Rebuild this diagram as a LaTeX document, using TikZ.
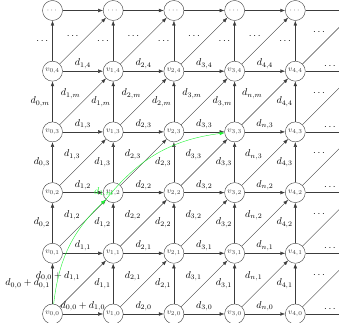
\documentclass[tikz,border=0pt]{standalone}
\usepackage{amsmath}
\usetikzlibrary{positioning,arrows.meta,calc}
\definecolor{gdGray}{RGB}{60,60,60}
\definecolor{gdGreen}{RGB}{30,245,50}
\tikzset{
    cell/.style={circle, draw=gdGray, fill=white, text=gdGray, inner sep=1pt,
                 minimum size=20pt, font=\footnotesize},
    link/.style={->, >=Latex, gdGray},
    cost/.style={inner sep=2.5pt, text=black},
    track/.style={->, >=Latex, gdGreen}
}

\begin{document}
\begin{tikzpicture}[x=60.7pt, y=60.7pt]
  \useasboundingbox (-0.865,-0.132) rectangle (4.720,5.173);

  % Grid of states
  \foreach \i in {0,...,4}{
    \foreach \j in {0,...,4}
      \node[cell] (v\i\j) at (\i,\j) {$v_{\i,\j}$};
    \node[cell] (v\i5) at (\i,5) {$\cdots$};
  }
  % Next column, cut off
  \foreach \j in {0,...,5}
    \coordinate (v5\j) at (5,\j);

  % Horizontal edges
  \foreach \i/\lab [evaluate=\i as \p using int(\i-1)] in
      {1/d_{0,0}+d_{1,0}, 2/d_{2,0}, 3/d_{3,0}, 4/d_{n,0}, 5/\cdots}
    \draw[link] (v\p0) -- node[cost, above] (h\i0) {$\lab$} (v\i0);
  \foreach \i/\lab [evaluate=\i as \p using int(\i-1)] in
      {1/d_{1,1}, 2/d_{2,1}, 3/d_{3,1}, 4/d_{n,1}, 5/\cdots}
    \draw[link] (v\p1) -- node[cost, above] (h\i1) {$\lab$} (v\i1);
  \foreach \i/\lab [evaluate=\i as \p using int(\i-1)] in
      {1/d_{1,2}, 2/d_{2,2}, 3/d_{3,2}, 4/d_{n,2}, 5/\cdots}
    \draw[link] (v\p2) -- node[cost, above] (h\i2) {$\lab$} (v\i2);
  \foreach \i/\lab [evaluate=\i as \p using int(\i-1)] in
      {1/d_{1,3}, 2/d_{2,3}, 3/d_{3,3}, 4/d_{n,3}, 5/\cdots}
    \draw[link] (v\p3) -- node[cost, above] (h\i3) {$\lab$} (v\i3);
  \foreach \i/\lab [evaluate=\i as \p using int(\i-1)] in
      {1/d_{1,4}, 2/d_{2,4}, 3/d_{3,4}, 4/d_{4,4}, 5/\cdots}
    \draw[link] (v\p4) -- node[cost, above] (h\i4) {$\lab$} (v\i4);
  \foreach \i [evaluate=\i as \p using int(\i-1)] in {1,...,5}
    \draw[link] (v\p5) -- (v\i5);

  % Vertical edges
  \foreach \j/\lab [evaluate=\j as \q using int(\j-1)] in
      {1/d_{0,0}+d_{0,1}, 2/d_{0,2}, 3/d_{0,3}, 4/d_{0,m}, 5/\cdots}
    \draw[link] (v0\q) -- node[cost, left] (u0\j) {$\lab$} (v0\j);
  \foreach \j/\lab [evaluate=\j as \q using int(\j-1)] in
      {1/d_{1,1}, 2/d_{1,2}, 3/d_{1,3}, 4/d_{1,m}, 5/\cdots}
    \draw[link] (v1\q) -- node[cost, left] (u1\j) {$\lab$} (v1\j);
  \foreach \j/\lab [evaluate=\j as \q using int(\j-1)] in
      {1/d_{2,1}, 2/d_{2,2}, 3/d_{2,3}, 4/d_{2,m}, 5/\cdots}
    \draw[link] (v2\q) -- node[cost, left] (u2\j) {$\lab$} (v2\j);
  \foreach \j/\lab [evaluate=\j as \q using int(\j-1)] in
      {1/d_{3,1}, 2/d_{3,2}, 3/d_{3,3}, 4/d_{3,m}, 5/\cdots}
    \draw[link] (v3\q) -- node[cost, left] (u3\j) {$\lab$} (v3\j);
  \foreach \j/\lab [evaluate=\j as \q using int(\j-1)] in
      {1/d_{4,1}, 2/d_{4,2}, 3/d_{4,3}, 4/d_{4,4}, 5/\cdots}
    \draw[link] (v4\q) -- node[cost, left] (u4\j) {$\lab$} (v4\j);

  % Diagonal edges
  \foreach \i/\lab [evaluate=\i as \p using int(\i-1)] in
      {1/d_{0,0}+d_{1,1}, 2/d_{2,1}, 3/d_{3,1}, 4/d_{n,1}, 5/\cdots}
    \draw[link] (v\p0) -- node[cost, above left] (g\i1) {$\lab$} (v\i1);
  \foreach \i/\lab [evaluate=\i as \p using int(\i-1)] in
      {1/d_{1,2}, 2/d_{2,2}, 3/d_{3,2}, 4/d_{n,2}, 5/\cdots}
    \draw[link] (v\p1) -- node[cost, above left] (g\i2) {$\lab$} (v\i2);
  \foreach \i/\lab [evaluate=\i as \p using int(\i-1)] in
      {1/d_{1,3}, 2/d_{2,3}, 3/d_{3,3}, 4/d_{n,3}, 5/\cdots}
    \draw[link] (v\p2) -- node[cost, above left] (g\i3) {$\lab$} (v\i3);
  \foreach \i/\lab [evaluate=\i as \p using int(\i-1)] in
      {1/d_{1,m}, 2/d_{2,m}, 3/d_{3,m}, 4/d_{n,m}, 5/\cdots}
    \draw[link] (v\p3) -- node[cost, above left] (g\i4) {$\lab$} (v\i4);
  \foreach \i [evaluate=\i as \p using int(\i-1)] in {1,...,5}
    \draw[link] (v\p4) -- node[cost, above left] (g\i5) {$\cdots$} (v\i5);

  % Chosen path
  \draw[track] (v00) to[bend left=20] coordinate[pos=1] (turn)
    node[pos=1, above, xshift=-2pt, text=gdGreen, inner sep=2.5pt] (glab) {$d_{1,m}$} (v12);
  \draw[track] (turn) to[bend left=22] (v33);
\end{tikzpicture}
\end{document}
